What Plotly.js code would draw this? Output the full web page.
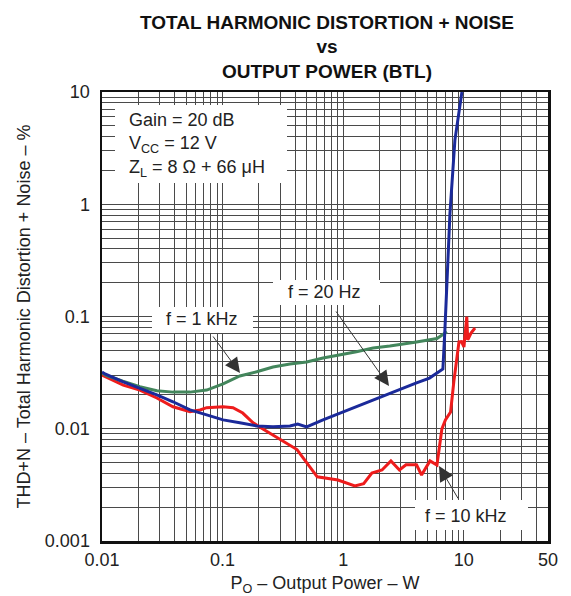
<!DOCTYPE html>
<html>
<head>
<meta charset="utf-8">
<script src="https://cdn.plot.ly/plotly-3.0.1.min.js"></script>
<style>html,body{margin:0;padding:0;background:#fff;}#chart{width:571px;height:596px;}</style>
</head>
<body>
<div id="chart"></div>
<script>
// ---- data ----
const seriesNames = ['f = 10 kHz', 'f = 1 kHz', 'f = 20 Hz'];

const red10kX = [0.01, 0.0106, 0.015, 0.0206, 0.0285, 0.0388, 0.0537, 0.065, 0.0738, 0.101, 0.122, 0.147, 0.179, 0.216, 0.30, 0.414, 0.61, 0.906, 1.25, 1.48, 1.73, 2.10, 2.49, 2.93, 3.32, 4.06, 4.47, 5.25, 6.0, 6.59, 7.05, 7.78, 8.29, 8.87, 9.13, 9.6, 10.04, 10.6, 10.8, 11.5, 12.4];
const red10kY = [0.030, 0.0292, 0.0245, 0.0221, 0.0188, 0.0157, 0.0142, 0.0147, 0.0154, 0.0157, 0.0154, 0.0138, 0.0113, 0.00995, 0.0081, 0.00653, 0.00373, 0.00349, 0.0031, 0.00324, 0.00403, 0.00429, 0.00517, 0.00429, 0.00477, 0.00477, 0.00387, 0.00517, 0.00475, 0.00995, 0.0120, 0.0141, 0.0266, 0.0498, 0.0593, 0.0597, 0.0535, 0.0995, 0.0618, 0.0713, 0.079];

const green1kX = [0.01, 0.0109, 0.0149, 0.0206, 0.0285, 0.0388, 0.0537, 0.0738, 0.101, 0.139, 0.192, 0.262, 0.362, 0.498, 0.681, 0.94, 1.29, 1.77, 2.44, 4.06, 6.0, 7.26];
const green1kY = [0.0314, 0.0298, 0.0265, 0.0237, 0.0218, 0.0212, 0.0212, 0.0221, 0.0251, 0.0295, 0.0322, 0.0355, 0.0377, 0.0393, 0.0427, 0.0454, 0.0486, 0.0524, 0.0546, 0.0593, 0.0637, 0.0733];

const blue20X = [0.01, 0.0106, 0.015, 0.0206, 0.0285, 0.0388, 0.0537, 0.0738, 0.101, 0.139, 0.192, 0.262, 0.362, 0.42, 0.498, 0.681, 0.94, 1.29, 1.77, 2.44, 4.06, 5.2, 6.72, 6.98, 7.69, 8.45, 9.66];
const blue20Y = [0.032, 0.0308, 0.0262, 0.0231, 0.0200, 0.0174, 0.0147, 0.0133, 0.0120, 0.0113, 0.0106, 0.0104, 0.0106, 0.0110, 0.0104, 0.0120, 0.0138, 0.0157, 0.0180, 0.0208, 0.0256, 0.0283, 0.0341, 0.0759, 0.835, 3.73, 10];

const xTickVals = [0.01, 0.1, 1, 10, 50];
const xTickText = ['0.01', '0.1', '1', '10', '50'];
const yTickVals = [0.001, 0.01, 0.1, 1, 10];
const yTickText = ['0.001', '0.01', '0.1', '1', '10'];

const conditionLines = ['Gain = 20 dB', 'V<sub>CC</sub> = 12 V', 'Z<sub>L</sub> = 8 Ω + 66 μH'];

// ---- grid positions (minor decades) ----
function minorVals(e0, e1, maxV) {
  const out = [];
  for (let e = e0; e <= e1; e++) {
    for (let m = 2; m <= 9; m++) {
      const v = m * Math.pow(10, e);
      if (v < maxV) out.push(v);
    }
  }
  return out;
}
const minorX = minorVals(-2, 1, 50);
const minorY = minorVals(-3, 0, 10);

const FONT = 'Arial, "Liberation Sans", sans-serif';
const GRID = '#4a4a4a';

const traces = [
  {x: red10kX, y: red10kY, name: seriesNames[0], mode: 'lines', line: {color: '#ee1c1c', width: 3}},
  {x: green1kX, y: green1kY, name: seriesNames[1], mode: 'lines', line: {color: '#43865c', width: 3}},
  {x: blue20X, y: blue20Y, name: seriesNames[2], mode: 'lines', line: {color: '#1b2a9a', width: 3}}
];

const axisCommon = {
  type: 'log',
  tickmode: 'array',
  showgrid: true,
  gridcolor: GRID,
  gridwidth: 1,
  showline: true,
  mirror: true,
  linecolor: '#111',
  linewidth: 2.5,
  zeroline: false,
  ticks: 'outside',
  tickcolor: 'rgba(0,0,0,0)',
  tickfont: {family: FONT, size: 18, color: '#222'}
};

// pixel -> paper helpers for the plot area (l=102, r=548, t=92, b=541)
const px = v => (v - 102) / 446;
const py = v => (541 - v) / 449;

const whiteRect = (x0, x1, y0, y1) => ({
  type: 'rect', xref: 'paper', yref: 'paper', layer: 'above',
  x0: px(x0), x1: px(x1), y0: py(y1), y1: py(y0),
  fillcolor: '#ffffff', line: {width: 0}
});

const txt = {family: FONT, size: 18, color: '#222'};
const label = (cx, cy, text) => ({
  xref: 'paper', yref: 'paper', x: px(cx), y: py(cy), xanchor: 'center', yanchor: 'middle',
  text: text, showarrow: false, font: txt
});
const arrow = (tx, ty, ax, ay) => ({
  xref: 'paper', yref: 'paper', x: px(tx), y: py(ty), ax: ax, ay: ay,
  text: '', showarrow: true, arrowhead: 2, arrowsize: 3, arrowwidth: 1,
  arrowcolor: '#333', standoff: 0
});

const layout = {
  width: 571, height: 596,
  margin: {l: 102, r: 23, t: 92, b: 55},
  paper_bgcolor: '#fff', plot_bgcolor: '#fff',
  showlegend: false,
  title: {
    text: 'TOTAL HARMONIC DISTORTION + NOISE<br>vs<br>OUTPUT POWER (BTL)',
    font: {family: FONT, size: 19, color: '#111', weight: 'bold'},
    x: 327 / 571, xanchor: 'center', xref: 'container',
    y: 0.952, yanchor: 'top', yref: 'container'
  },
  xaxis: Object.assign({}, axisCommon, {
    range: [-2, Math.log10(50)],
    ticklen: 1,
    tickvals: xTickVals, ticktext: xTickText,
    minor: {tickmode: 'array', tickvals: minorX, showgrid: true, gridcolor: GRID, gridwidth: 1, ticks: ''},
    title: {text: 'P<sub>O</sub> – Output Power – W', font: {family: FONT, size: 18, color: '#222'}, standoff: 23}
  }),
  yaxis: Object.assign({}, axisCommon, {
    range: [-3, 1],
    ticklen: 6,
    tickvals: yTickVals, ticktext: yTickText,
    minor: {tickmode: 'array', tickvals: minorY, showgrid: true, gridcolor: GRID, gridwidth: 1, ticks: ''},
    title: {text: 'THD+N – Total Harmonic Distortion + Noise – %', font: {family: FONT, size: 18, color: '#222'}, standoff: 10}
  }),
  shapes: [
    whiteRect(115, 287, 105, 183),
    whiteRect(273, 380, 280, 305),
    whiteRect(152, 253, 307, 333),
    whiteRect(415, 528, 500, 530)
  ],
  annotations: [
    {xref: 'paper', yref: 'paper', x: px(127), y: py(145), xanchor: 'left', yanchor: 'middle', align: 'left',
     text: conditionLines.join('<br>'), showarrow: false, font: txt},
    label(324, 292, seriesNames[2]),
    label(202, 319, seriesNames[1]),
    label(466, 516, seriesNames[0]),
    arrow(240, 373, -28, -38),
    arrow(389, 386, -54, -76),
    arrow(439, 466, 20, 34)
  ]
};

Plotly.newPlot('chart', traces, layout, {displayModeBar: false, staticPlot: true});
</script>
</body>
</html>
